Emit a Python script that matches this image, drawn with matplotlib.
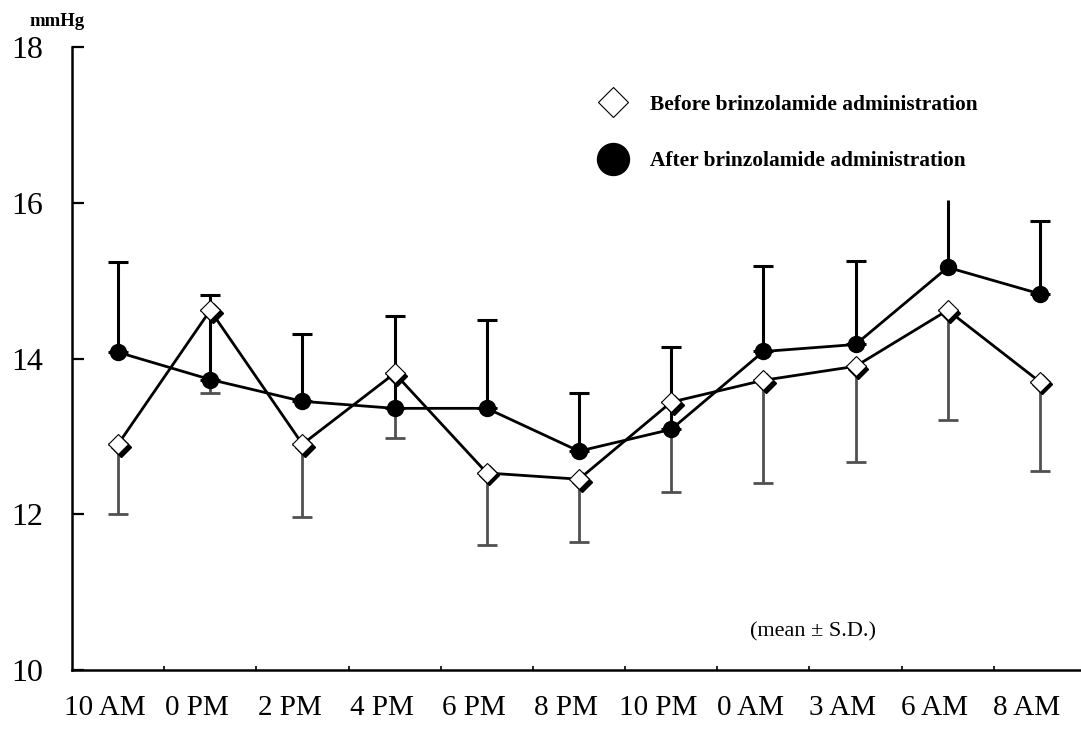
import numpy as np
import matplotlib
matplotlib.use("Agg")
import matplotlib.pyplot as plt
from matplotlib.lines import Line2D
import matplotlib.transforms as mtransforms

# --- data --- #
times = ["10 AM", "0 PM", "2 PM", "4 PM", "6 PM", "8 PM",
         "10 PM", "0 AM", "3 AM", "6 AM", "8 AM"]
before_mean = [12.90, 14.62, 12.90, 13.81, 12.53, 12.45,
               13.44, 13.72, 13.90, 14.62, 13.70]
before_sd = [0.90, 1.06, 0.94, 0.83, 0.93, 0.80,
             1.15, 1.32, 1.23, 1.41, 1.15]
after_mean = [14.08, 13.73, 13.45, 13.36, 13.36, 12.81,
              13.09, 14.09, 14.18, 15.17, 14.83]
after_sd = [1.16, 1.08, 0.86, 1.18, 1.13, 0.75,
            1.06, 1.10, 1.07, 0.86, 0.93]

plt.rcParams['font.family'] = ['Liberation Serif', 'DejaVu Serif']

fig = plt.figure(figsize=(10.81, 7.45), dpi=100)
ax = fig.add_axes([72/1081, 1-670/745, 1014/1081, 623/745])

x = np.arange(len(times)) + 0.5
bm = np.array(before_mean)
am = np.array(after_mean)

# error bars: before -> downward (grey), after -> upward (black)
ax.errorbar(x, bm, yerr=[before_sd, np.zeros(len(x))], fmt='none',
            ecolor='#505050', elinewidth=2.0, capsize=7, capthick=2.0, zorder=2)
eb = ax.errorbar(x, am, yerr=[np.zeros(len(x)), after_sd], fmt='none',
                 ecolor='black', elinewidth=2.2, capsize=7, capthick=2.2, zorder=2)
# the 6 AM upper bar has no cap in the original
for cap in eb[1]:
    cx, cy = cap.get_data()
    keep = np.abs(np.asarray(cx) - x[times.index("6 AM")]) > 1e-9
    cap.set_data(np.asarray(cx)[keep], np.asarray(cy)[keep])

# lines
ax.plot(x, am, color='black', lw=2.0, zorder=3)
ax.plot(x, bm, color='black', lw=2.0, zorder=3)

# diamond shadow (3D effect) + white diamonds
shadow = mtransforms.offset_copy(ax.transData, fig=fig, x=2.5, y=-2.5, units='dots')
ax.plot(x, bm, ls='none', marker='D', ms=9.8, mfc='black', mec='black',
        transform=shadow, zorder=4)
ax.plot(x, bm, ls='none', marker='D', ms=9.8, mfc='white', mec='black',
        mew=0.8, zorder=5)
ax.plot(x, am, ls='none', marker='o', ms=11.5, mfc='black', mec='black', zorder=5)

# axes styling
ax.set_xlim(0, len(times))
ax.set_ylim(10, 18)
ax.spines['top'].set_visible(False)
ax.spines['right'].set_visible(False)
ax.spines['left'].set_linewidth(1.8)
ax.spines['bottom'].set_linewidth(1.8)

ax.set_yticks([10, 12, 14, 16, 18])
ax.tick_params(axis='y', direction='in', length=8.5, width=1.6,
               pad=21, labelsize=23)

ax.set_xticks(np.arange(1, len(times)))
ax.set_xticklabels([])
ax.set_xticks(x, minor=True)
ax.set_xticklabels(times, minor=True)
ax.tick_params(axis='x', which='major', direction='in', length=3, width=1.2)
ax.tick_params(axis='x', which='minor', length=0, pad=18, labelsize=21)
# labels in the original sit a little left of the points
lbl_shift = mtransforms.ScaledTranslation(-13/100, 0, fig.dpi_scale_trans)
for lbl in ax.get_xticklabels(minor=True):
    lbl.set_transform(lbl.get_transform() + lbl_shift)

fig.text(57/1081, 1-21/745, "mmHg", ha='center', va='center',
         fontsize=13.5, fontweight='bold')

ax.text((750-72)/1014, (670-632)/623, "(mean ± S.D.)", transform=ax.transAxes,
        ha='left', va='center', fontsize=16)

handles = [
    Line2D([], [], ls='none', marker='D', ms=15, mfc='white', mec='black', mew=0.8),
    Line2D([], [], ls='none', marker='o', ms=23, mfc='black', mec='black'),
]
ax.legend(handles, ["Before brinzolamide administration",
                    "After brinzolamide administration"],
          loc='center left', bbox_to_anchor=(597/1081, 1-133/745),
          bbox_transform=fig.transFigure, frameon=False,
          prop={'size': 15.4, 'weight': 'bold'},
          handlelength=1.5, handletextpad=1.0, labelspacing=1.7,
          borderpad=0, borderaxespad=0)

fig.savefig("out.png", dpi=100)
